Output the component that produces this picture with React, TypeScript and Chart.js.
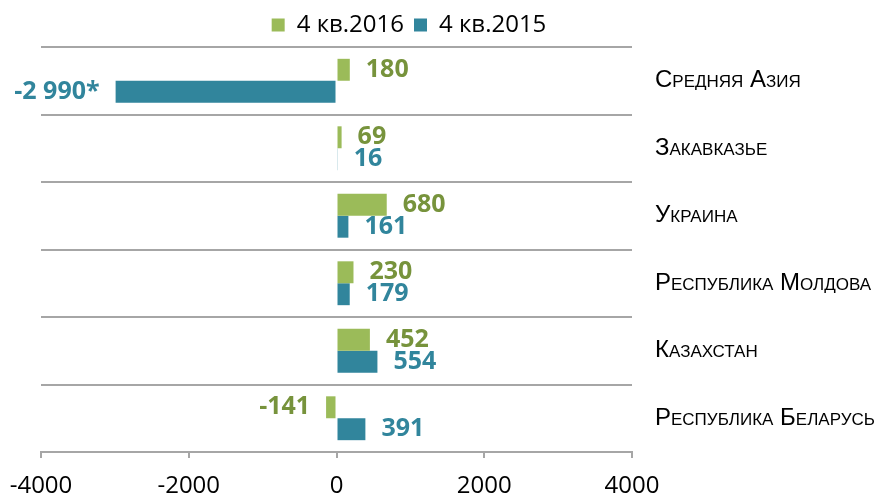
import React, { useEffect, useRef } from 'react';
import { Chart, registerables } from 'chart.js';

Chart.register(...registerables);

const categories = [
  'Средняя Азия',
  'Закавказье',
  'Украина',
  'Республика Молдова',
  'Казахстан',
  'Республика Беларусь',
];
const seriesNames = ['4 кв.2016', '4 кв.2015'];
const values2016 = [180, 69, 680, 230, 452, -141];
const values2015 = [-2990, 16, 161, 179, 554, 391];
const notes2016 = ['', '', '', '', '', ''];
const notes2015 = ['*', '', '', '', '', ''];
const xTickValues = [-4000, -2000, 0, 2000, 4000];

const barColors = ['#9BBB59', '#31859C'];
const labelColors = ['#77933C', '#31859C'];
const gridColor = '#A6A6A6';

const fmt = (v: number) => {
  const s = Math.abs(v)
    .toString()
    .replace(/\B(?=(\d{3})+(?!\d))/g, ' ');
  return (v < 0 ? '-' : '') + s;
};

const valueLabelPlugin = {
  id: 'valueLabels',
  afterDatasetsDraw(chart: any) {
    const ctx = chart.ctx;
    const notes = [notes2016, notes2015];
    chart.data.datasets.forEach((ds: any, di: number) => {
      const meta = chart.getDatasetMeta(di);
      meta.data.forEach((bar: any, i: number) => {
        const v = ds.data[i] as number;
        const text = fmt(v) + notes[di][i];
        ctx.save();
        ctx.font = 'bold 25px "Open Sans"';
        ctx.fillStyle = labelColors[di];
        ctx.textBaseline = 'middle';
        if (v >= 0) {
          ctx.textAlign = 'left';
          ctx.fillText(text, bar.x + 16, bar.y);
        } else {
          ctx.textAlign = 'right';
          ctx.fillText(text, bar.x - 16, bar.y);
        }
        ctx.restore();
      });
    });
  },
};

const categoryLabelPlugin = {
  id: 'categoryLabels',
  afterDraw(chart: any) {
    const ctx = chart.ctx;
    const yScale = chart.scales.y;
    const area = chart.chartArea;
    ctx.save();
    ctx.font = 'small-caps 24px "Liberation Sans"';
    ctx.fillStyle = '#000000';
    ctx.textAlign = 'left';
    ctx.textBaseline = 'middle';
    categories.forEach((c, i) => {
      ctx.fillText(c, area.right + 23, yScale.getPixelForValue(i));
    });
    ctx.restore();
  },
};

export default function App() {
  const canvasRef = useRef<HTMLCanvasElement | null>(null);

  useEffect(() => {
    document.body.style.margin = '0';
    const canvas = canvasRef.current;
    if (!canvas) return;
    const chart = new Chart(canvas, {
      type: 'bar',
      data: {
        labels: categories,
        datasets: [
          {
            label: seriesNames[0],
            data: values2016,
            backgroundColor: barColors[0],
            categoryPercentage: 0.65,
            barPercentage: 1,
          },
          {
            label: seriesNames[1],
            data: values2015,
            backgroundColor: barColors[1],
            categoryPercentage: 0.65,
            barPercentage: 1,
          },
        ],
      },
      options: {
        indexAxis: 'y',
        animation: false,
        responsive: false,
        maintainAspectRatio: false,
        layout: { padding: { left: 41, right: 103, top: 3, bottom: 0 } },
        plugins: {
          legend: {
            position: 'top',
            labels: {
              boxWidth: 13,
              boxHeight: 13,
              padding: 10,
              color: '#000000',
              font: { family: '"Open Sans"', size: 24 },
            },
          },
          tooltip: { enabled: false },
        },
        scales: {
          x: {
            type: 'linear',
            min: -4000,
            max: 4000,
            afterBuildTicks: (scale: any) => {
              scale.ticks = xTickValues.map((v) => ({ value: v }));
            },
            afterFit: (scale: any) => {
              scale.height = 43;
              scale.paddingLeft = 0;
              scale.paddingRight = 0;
            },
            grid: {
              drawOnChartArea: false,
              drawTicks: true,
              tickLength: 6,
              color: gridColor,
              lineWidth: 2,
            },
            border: { display: true, color: gridColor, width: 2 },
            ticks: {
              padding: 14,
              color: '#000000',
              font: { family: '"Open Sans"', size: 24 },
              callback: (v: any) => String(v),
            },
          },
          y: {
            type: 'category',
            position: 'right',
            afterFit: (scale: any) => {
              scale.width = 880 - 103 - 632;
            },
            grid: {
              offset: true,
              drawTicks: false,
              color: gridColor,
              lineWidth: 2,
            },
            border: { display: false },
            ticks: { display: false },
          },
        },
      },
      plugins: [valueLabelPlugin, categoryLabelPlugin],
    });
    return () => chart.destroy();
  }, []);

  return (
    <div style={{ width: 880, height: 495, position: 'relative' }}>
      <canvas ref={canvasRef} width={880} height={495} style={{ width: 880, height: 495 }} />
    </div>
  );
}
